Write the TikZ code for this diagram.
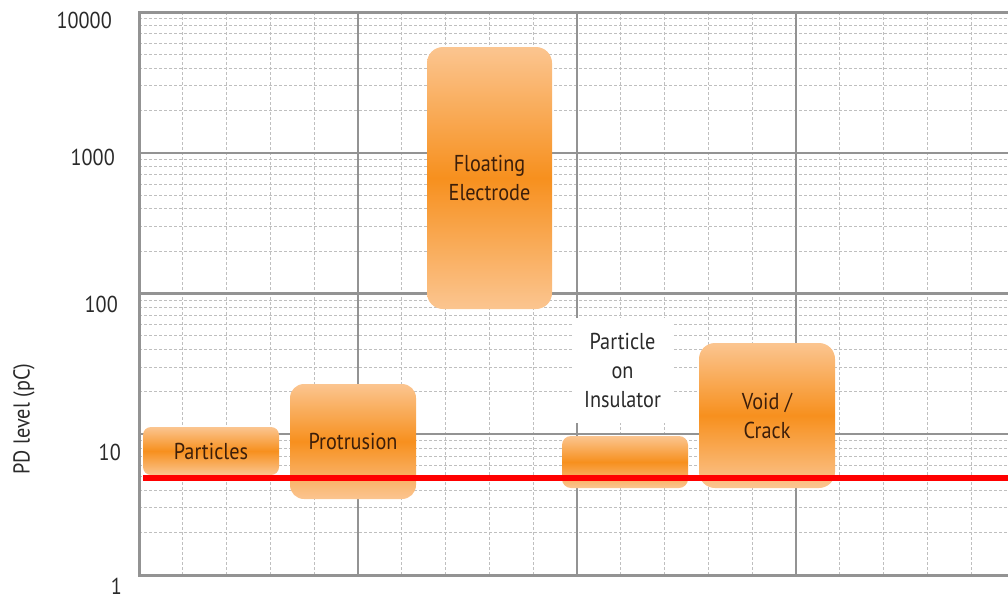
\documentclass[tikz,border=0pt]{standalone}
\usepackage{fontspec}
\setmainfont{PT Sans}[FakeStretch=0.88]
\definecolor{boxlight}{HTML}{FBC590}
\definecolor{boxorange}{HTML}{F7901E}
\definecolor{boxtext}{HTML}{3C1E0A}
\definecolor{labelgray}{HTML}{2A2A2A}
\tikzset{
  minorgrid/.style={gray!50, line width=0.8pt, dash pattern=on 3pt off 2pt},
  majorgrid/.style={gray!85, line width=2.4pt},
  pdbox/.style={rounded corners=#1, top color=boxlight, bottom color=boxlight,
    middle color=boxorange, text=boxtext, align=center, inner sep=0pt},
  pdbox/.default=15pt,
  axislabel/.style={anchor=east, inner sep=0pt, text=labelgray},
}
\begin{document}
\begin{tikzpicture}[x=1pt, y=-1pt, font=\fontsize{23}{29}\selectfont]
  \useasboundingbox (0,0) rectangle (1008,600);
  % minor grid
  \foreach \d in {0,...,3}
    \foreach \m in {2,...,9}
      \draw[minorgrid] (139,{575-140.75*(\d+log10(\m))}) -- (1008,{575-140.75*(\d+log10(\m))});
  \foreach \i in {1,2,3,4,6,7,8,9,11,12,13,14,16,17,18,19}
    \draw[minorgrid] ({139+43.8*\i},12) -- ({139+43.8*\i},575);
  % major grid
  \foreach \d in {1,2,3}
    \draw[majorgrid] (139,{575-140.75*\d}) -- (1008,{575-140.75*\d});
  \foreach \i in {1,2,3}
    \draw[majorgrid] ({139+219*\i},12) -- ({139+219*\i},575);
  \draw[majorgrid, line width=3pt] (1008,12) -- (139,12) -- (139,575) -- (1008,575);

  % defect types
  \node[pdbox=8pt, minimum width=136, minimum height=48] (particles) at (211,451) {Particles};
  \node[pdbox=14pt, minimum width=126, minimum height=115] (protrusion) at (353,441.5) {Protrusion};
  \node[pdbox=16pt, minimum width=125, minimum height=262] (floating) at (489.5,178) {Floating\\Electrode};
  \node[pdbox=9pt, minimum width=126, minimum height=52] (insulator) at (625,462) {};
  \node[pdbox=16pt, minimum width=136, minimum height=145] (void) at (767,415.5) {Void /\\Crack};
  \node[fill=white, text=labelgray, align=center, minimum width=101, minimum height=105,
    inner sep=0pt] (insulatorlabel) at (622.5,370.5) {Particle\\on\\Insulator};

  % detection level
  \coordinate (level0) at (143,478);
  \coordinate (level1) at (1008,478);
  \draw[red, line width=6pt] (level0) -- (level1);

  % axis
  \node[axislabel] (l10000) at (112,20.5) {10000};
  \node[axislabel] (l1000) at (115,157) {1000};
  \node[axislabel] (l100) at (118,304) {100};
  \node[axislabel] (l10) at (121,452) {10};
  \node[axislabel] (l1) at (122,586) {1};
  \node[rotate=90, text=labelgray] (ytitle) at (24,419) {PD level (pC)};
\end{tikzpicture}
\end{document}
